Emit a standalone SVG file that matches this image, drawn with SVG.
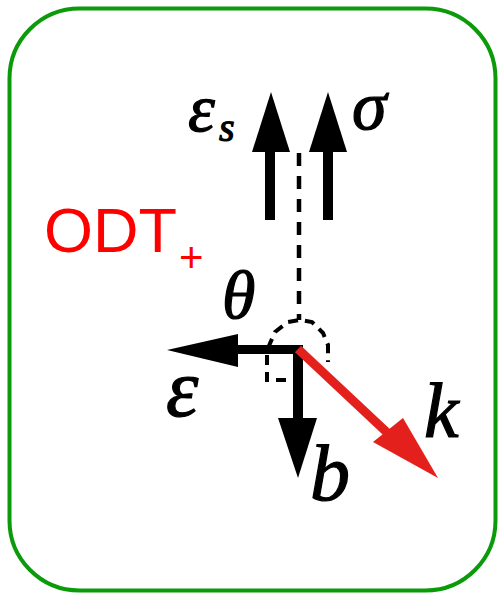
<svg xmlns="http://www.w3.org/2000/svg" width="498" height="593" viewBox="0 0 498 593">
<style>
.m{font-family:"Liberation Serif","Times New Roman",serif;font-style:italic;fill:#000;stroke:#000;stroke-width:1.2}
.dash{fill:none;stroke:#000;stroke-width:4;stroke-dasharray:10 7}
</style>
<rect x="9.5" y="8.5" width="486" height="582" rx="70" ry="70" fill="#fff" stroke="#0a9a0a" stroke-width="4"/>
<g id="label-odt">
<text x="44" y="252" font-family="Liberation Sans, Arial, sans-serif" font-size="63" fill="#ff0000">ODT</text>
<text x="179" y="272" font-family="Liberation Sans, Arial, sans-serif" font-size="42" fill="#ff0000">+</text>
</g>
<g id="connectors">
<line x1="299" y1="153" x2="299" y2="320" stroke="#000" stroke-width="4.5" stroke-dasharray="13 10"/>
<path class="dash" d="M268 348 L275 332 L288 322 L300 320 L312 322 L323 333 L328 345 L328 362"/>
<path class="dash" d="M298 352 L267 352 L267 380 L296 380"/>
<g id="arrow-es">
<rect x="265" y="150" width="10" height="70" fill="#000"/>
<polygon points="271,92 252,152 290,152" fill="#000"/>
</g>
<g id="arrow-sigma">
<rect x="323" y="150" width="10" height="70" fill="#000"/>
<polygon points="328,92 309,152 347,152" fill="#000"/>
</g>
<g id="arrow-eps">
<rect x="235" y="345" width="66" height="9" fill="#000"/>
<polygon points="167,350 238,334 238,367" fill="#000"/>
</g>
<g id="arrow-b">
<rect x="293" y="345" width="10" height="76" fill="#000"/>
<polygon points="298,478 278,418 317,418" fill="#000"/>
</g>
<g id="arrow-k">
<line x1="298" y1="349" x2="395" y2="440" stroke="#e3201b" stroke-width="9"/>
<polygon points="438,478 373,442 403,418" fill="#e3201b"/>
</g>
</g>
<g id="labels">
<text class="m" x="188" y="131" font-size="68">ε</text>
<text class="m" x="219" y="141" font-size="40">s</text>
<text class="m" x="352" y="129" font-size="70">σ</text>
<text class="m" x="222" y="318" font-size="68">θ</text>
<text class="m" x="166" y="416" font-size="82">ε</text>
<text class="m" x="310" y="500" font-size="80">b</text>
<text class="m" x="424" y="437" font-size="78">k</text>
</g>
</svg>
